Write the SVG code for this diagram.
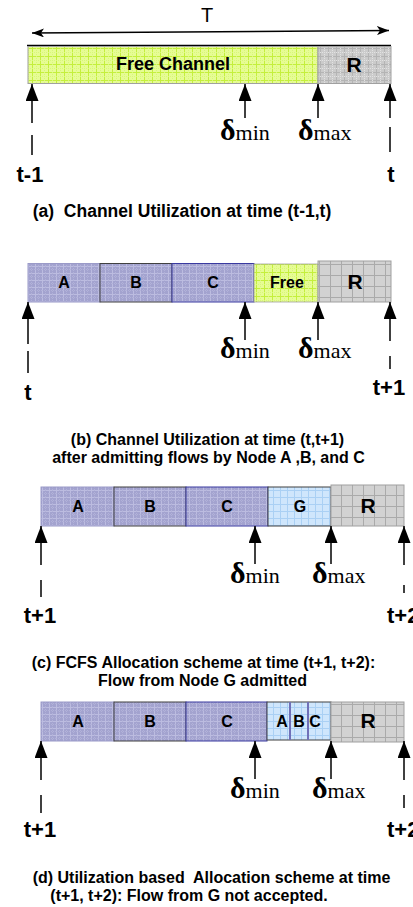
<svg xmlns="http://www.w3.org/2000/svg" width="413" height="907" viewBox="0 0 413 907">
<style>
.lbl{font-family:"Liberation Sans",Arial,sans-serif;font-weight:bold;fill:#000}
.seg{font-size:16px;text-anchor:middle}
.rr{font-size:21px;text-anchor:middle}
.tl{font-size:22px}
.cap{font-size:16px;text-anchor:middle}
.dl{font-family:"Liberation Serif","Times New Roman",serif;font-size:30px;fill:#000;font-weight:bold}
.sub{font-size:22px;font-weight:normal}
.shaft{stroke:#000;stroke-width:1.5;fill:none}
.arr{stroke:#000;stroke-width:1.5;fill:none;marker-end:url(#head)}
</style>
<defs>
<marker id="head" viewBox="0 0 17 13" markerUnits="userSpaceOnUse" markerWidth="17" markerHeight="13" refX="17" refY="6.5" orient="auto"><path d="M0,0 L17,6.5 L0,13 Z" fill="#000"/></marker>
<marker id="thin" viewBox="0 0 12 9" markerUnits="userSpaceOnUse" markerWidth="12" markerHeight="9" refX="12" refY="4.5" orient="auto-start-reverse"><path d="M0,0 L12,4.5 L0,9 L3,4.5 Z" fill="#000"/></marker>
<pattern id="pGreen" patternUnits="userSpaceOnUse" width="8" height="8"><rect width="8" height="8" fill="#e6fc94"/><path d="M0,0.5H8M0.5,0V8" stroke="#c4ef3c" stroke-width="1"/><path d="M0,4.5H8M4.5,0V8" stroke="#d8f77a" stroke-width="1" stroke-dasharray="1,1"/></pattern>
<pattern id="pGrayA" patternUnits="userSpaceOnUse" width="8" height="8"><rect width="8" height="8" fill="#cbcbcb"/><path d="M0,0.5H8M0.5,0V8" stroke="#b4b4b4" stroke-width="1"/><path d="M0,4.5H8M4.5,0V8" stroke="#e2e2e2" stroke-width="1" stroke-dasharray="1,1"/></pattern>
<pattern id="pGray" patternUnits="userSpaceOnUse" width="11" height="11"><rect width="11" height="11" fill="#d2d2d2"/><path d="M0,0.5H11M0.5,0V11" stroke="#aaaaaa" stroke-width="1"/></pattern>
<pattern id="pBlue" patternUnits="userSpaceOnUse" width="7" height="7"><rect width="7" height="7" fill="#a3a3cf"/><path d="M0,0.5H7M0.5,0V7" stroke="#bcbce0" stroke-width="1"/><path d="M0,3.5H7M3.5,0V7" stroke="#b2b2d9" stroke-width="1" stroke-dasharray="1,1"/></pattern>
<pattern id="pLight" patternUnits="userSpaceOnUse" width="7" height="7"><rect width="7" height="7" fill="#cfe6fc"/><path d="M0,0.5H7M0.5,0V7" stroke="#aad0f4" stroke-width="1"/></pattern>
</defs>

<!-- Panel (a) -->
<g id="panel-a">
  <text class="lbl" x="207" y="22" text-anchor="middle" style="font-weight:normal;font-size:20px">T</text>
  <line x1="32" y1="33" x2="389" y2="30.5" stroke="#000" stroke-width="1.5" marker-start="url(#thin)" marker-end="url(#thin)"/>
  <line x1="27" y1="45.5" x2="391" y2="45.5" stroke="#000" stroke-width="1.5"/>
  <g id="a-free"><rect x="28" y="46.5" width="290" height="37" fill="url(#pGreen)" stroke="#a0a0a0" stroke-width="1"/><text class="lbl" x="173" y="70" text-anchor="middle" font-size="18">Free Channel</text></g>
  <g id="a-R"><rect x="318" y="46.5" width="73" height="37" fill="url(#pGrayA)" stroke="#a0a0a0" stroke-width="1"/><text class="lbl rr" x="354" y="72">R</text></g>
  <text class="dl" x="220" y="140">δ<tspan class="sub">min</tspan></text>
  <text class="dl" x="298" y="140">δ<tspan class="sub">max</tspan></text>
  <text class="lbl tl" x="30" y="182" text-anchor="middle">t-1</text>
  <text class="lbl tl" x="391" y="182" text-anchor="middle">t</text>
  <text class="lbl" x="182" y="217" text-anchor="middle" font-size="17.5">(a)&#160; Channel Utilization at time (t-1,t)</text>
</g>

<!-- Panel (b) -->
<g id="panel-b">
  <g id="b-A"><rect x="28" y="263.5" width="72" height="38.5" fill="url(#pBlue)" stroke="#9a9ac8" stroke-width="1"/><text class="lbl seg" x="64" y="288">A</text></g>
  <g id="b-B"><rect x="100" y="263.5" width="72" height="38.5" fill="url(#pBlue)" stroke="#404040" stroke-width="1"/><text class="lbl seg" x="136" y="288">B</text></g>
  <g id="b-C"><rect x="172" y="263.5" width="82" height="38.5" fill="url(#pBlue)" stroke="#3a3aa0" stroke-width="1"/><text class="lbl seg" x="213" y="288">C</text></g>
  <g id="b-Free"><rect x="254" y="264" width="64" height="38" fill="url(#pGreen)" stroke="#a0a0a0" stroke-width="0.8"/><text class="lbl seg" x="287" y="288">Free</text></g>
  <g id="b-R"><rect x="318" y="261" width="73" height="41" fill="url(#pGray)" stroke="#a0a0a0" stroke-width="1"/><text class="lbl rr" x="355" y="289">R</text></g>
  <text class="dl" x="220" y="358">δ<tspan class="sub">min</tspan></text>
  <text class="dl" x="298" y="358">δ<tspan class="sub">max</tspan></text>
  <text class="lbl tl" x="28" y="400" text-anchor="middle">t</text>
  <text class="lbl tl" x="389" y="395" text-anchor="middle">t+1</text>
  <text class="lbl cap" x="207.5" y="445">(b) Channel Utilization at time (t,t+1)</text>
  <text class="lbl cap" x="208.5" y="463">after admitting flows by Node A ,B, and C</text>
</g>

<!-- Panel (c) -->
<g id="panel-c">
  <g id="c-A"><rect x="41" y="487" width="73" height="39" fill="url(#pBlue)" stroke="#9a9ac8" stroke-width="1"/><text class="lbl seg" x="78" y="512">A</text></g>
  <g id="c-B"><rect x="114" y="487" width="72" height="39" fill="url(#pBlue)" stroke="#404040" stroke-width="1"/><text class="lbl seg" x="150" y="512">B</text></g>
  <g id="c-C"><rect x="186" y="487" width="82" height="39" fill="url(#pBlue)" stroke="#3a3aa0" stroke-width="1"/><text class="lbl seg" x="227" y="512">C</text></g>
  <g id="c-G"><rect x="268" y="487" width="63" height="39" fill="url(#pLight)" stroke="#404040" stroke-width="1"/><text class="lbl seg" x="300" y="512">G</text></g>
  <g id="c-R"><rect x="331" y="485" width="73" height="41" fill="url(#pGray)" stroke="#a0a0a0" stroke-width="1"/><text class="lbl rr" x="368" y="513">R</text></g>
  <text class="dl" x="230" y="583">δ<tspan class="sub">min</tspan></text>
  <text class="dl" x="312" y="583">δ<tspan class="sub">max</tspan></text>
  <text class="lbl tl" x="40" y="623" text-anchor="middle">t+1</text>
  <text class="lbl tl" x="387" y="623">t+2</text>
  <text class="lbl cap" x="203.5" y="668">(c) FCFS Allocation scheme at time (t+1, t+2):</text>
  <text class="lbl cap" x="202.5" y="686">Flow from Node G admitted</text>
</g>

<!-- Panel (d) -->
<g id="panel-d">
  <g id="d-A"><rect x="41" y="702" width="73" height="39" fill="url(#pBlue)" stroke="#9a9ac8" stroke-width="1"/><text class="lbl seg" x="78" y="727">A</text></g>
  <g id="d-B"><rect x="114" y="702" width="72" height="39" fill="url(#pBlue)" stroke="#404040" stroke-width="1"/><text class="lbl seg" x="150" y="727">B</text></g>
  <g id="d-C"><rect x="186" y="702" width="81" height="39" fill="url(#pBlue)" stroke="#3a3aa0" stroke-width="1"/><text class="lbl seg" x="227" y="727">C</text></g>
  <g id="d-ABC">
    <rect x="267" y="702" width="64" height="38" fill="url(#pLight)" stroke="#404040" stroke-width="1"/>
    <line x1="290" y1="702" x2="290" y2="740" stroke="#7070b8" stroke-width="2"/>
    <line x1="308" y1="702" x2="308" y2="740" stroke="#7070b8" stroke-width="2"/>
    <text class="lbl seg" x="282" y="727" font-size="15">A</text>
    <text class="lbl seg" x="299" y="727" font-size="15">B</text>
    <text class="lbl seg" x="315" y="727" font-size="15">C</text>
  </g>
  <g id="d-R"><rect x="331" y="702" width="73" height="40" fill="url(#pGray)" stroke="#a0a0a0" stroke-width="1"/><text class="lbl rr" x="368" y="728">R</text></g>
  <text class="dl" x="230" y="798">δ<tspan class="sub">min</tspan></text>
  <text class="dl" x="312" y="798">δ<tspan class="sub">max</tspan></text>
  <text class="lbl tl" x="40" y="837" text-anchor="middle">t+1</text>
  <text class="lbl tl" x="387" y="837">t+2</text>
  <text class="lbl cap" x="211.5" y="883">(d) Utilization based&#160; Allocation scheme at time</text>
  <text class="lbl cap" x="189" y="901">(t+1, t+2): Flow from G not accepted.</text>
</g>

<g id="connectors">
  <!-- (a) -->
  <line class="arr" x1="32" y1="123" x2="32" y2="84"/><line class="shaft" x1="32" y1="135" x2="32" y2="155"/>
  <line class="arr" x1="245" y1="118" x2="245" y2="84"/>
  <line class="arr" x1="318" y1="118" x2="318" y2="84"/>
  <line class="arr" x1="390" y1="118" x2="390" y2="84"/><line class="shaft" x1="390" y1="127" x2="390" y2="152"/>
  <!-- (b) -->
  <line class="arr" x1="28" y1="344" x2="28" y2="302"/><line class="shaft" x1="28" y1="351" x2="28" y2="373"/>
  <line class="arr" x1="245" y1="340" x2="245" y2="302"/>
  <line class="arr" x1="318" y1="340" x2="318" y2="302"/>
  <line class="arr" x1="390" y1="341" x2="390" y2="302"/><line class="shaft" x1="390" y1="356" x2="390" y2="369"/>
  <!-- (c) -->
  <line class="arr" x1="41" y1="565" x2="41" y2="526"/><line class="shaft" x1="41" y1="580" x2="41" y2="597"/>
  <line class="arr" x1="255" y1="564" x2="255" y2="526"/>
  <line class="arr" x1="331" y1="564" x2="331" y2="526"/>
  <line class="arr" x1="404" y1="565" x2="404" y2="526"/><line class="shaft" x1="404" y1="585" x2="404" y2="593"/>
  <!-- (d) -->
  <line class="arr" x1="41" y1="780" x2="41" y2="741"/><line class="shaft" x1="41" y1="795" x2="41" y2="813"/>
  <line class="arr" x1="255" y1="779" x2="255" y2="741"/>
  <line class="arr" x1="331" y1="779" x2="331" y2="741"/>
  <line class="arr" x1="404" y1="780" x2="404" y2="741"/><line class="shaft" x1="404" y1="795" x2="404" y2="808"/>
</g>
</svg>
